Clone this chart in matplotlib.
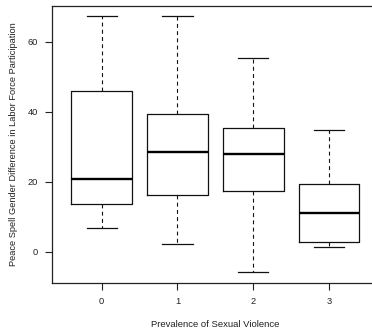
import matplotlib
matplotlib.use("Agg")
import matplotlib.pyplot as plt

groups = ["0", "1", "2", "3"]
whislo = [6.9, 2.1, -5.9, 1.3]
q1 = [13.7, 16.3, 17.3, 2.7]
med = [20.8, 28.6, 27.8, 11.1]
q3 = [45.9, 39.3, 35.4, 19.4]
whishi = [67.3, 67.3, 55.4, 34.9]
yticks = [0, 20, 40, 60]

plt.rcParams['font.family'] = ['Liberation Sans', 'DejaVu Sans']

fig = plt.figure(figsize=(3.72, 3.33), dpi=100)
ax = fig.add_axes([52/372, 50/333, 327/372, 277/333])

stats = []
for i, g in enumerate(groups):
    stats.append(dict(label=g, whislo=whislo[i], q1=q1[i], med=med[i],
                      q3=q3[i], whishi=whishi[i], fliers=[]))

ax.bxp(stats, positions=range(len(groups)), widths=0.8,
       showfliers=False, capwidths=0.4,
       boxprops=dict(color='#111111', linewidth=0.9),
       medianprops=dict(color='black', linewidth=1.7),
       whiskerprops=dict(color='#111111', linewidth=0.8, linestyle=(0, (3.5, 3))),
       capprops=dict(color='#111111', linewidth=0.9))

ax.set_xlim(-0.656, 3.66)
ax.set_ylim(-8.9, 70.2)
ax.set_yticks(yticks)
ax.set_xticks(range(len(groups)))
ax.set_xticklabels(groups)
for s in ax.spines.values():
    s.set_linewidth(0.9)
    s.set_color('#222222')
ax.tick_params(direction='out', length=5, width=0.8, colors='#222222',
               labelsize=6.7, pad=5)
ax.set_xlabel("Prevalence of Sexual Violence", fontsize=6.8, labelpad=10, color='#222222')
ax.set_ylabel("Peace Spell Gender Difference in Labor Force Participation",
              fontsize=6.7, labelpad=7, color='#222222')

fig.savefig("out.png", dpi=100)
